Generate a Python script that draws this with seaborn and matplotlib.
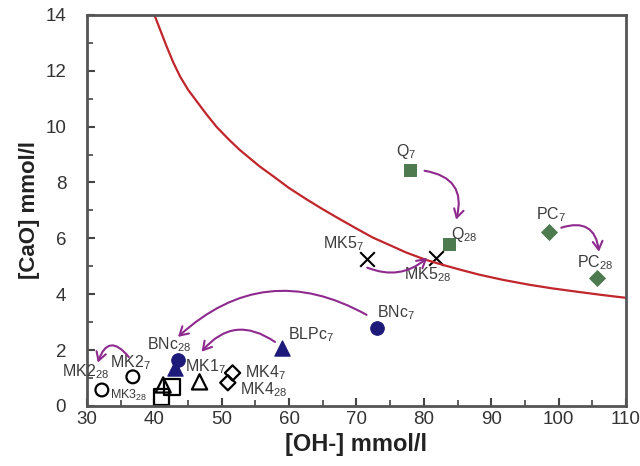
import numpy as np
import pandas as pd
import seaborn as sns
import matplotlib.pyplot as plt
from matplotlib.ticker import MultipleLocator

# %% Data

# saturation curve of Ca(OH)2
curve_oh = [40.0, 41.8, 42.8, 43.8, 45.0, 46.3, 47.7, 49.2, 51.0, 52.7, 55.6, 57.6, 60.0,
            62.5, 65.0, 67.5, 70.0, 72.4, 75.0, 77.4, 80.3, 82.8, 85.5, 88.2, 91.8, 95.6,
            99.0, 103.0, 106.5, 110.0]
curve_cao = [14.0, 12.88, 12.3, 11.8, 11.32, 10.9, 10.45, 10.0, 9.55, 9.16, 8.58, 8.23, 7.8,
             7.41, 7.04, 6.69, 6.35, 6.03, 5.75, 5.49, 5.23, 5.05, 4.87, 4.7, 4.51, 4.34,
             4.21, 4.08, 3.97, 3.87]

# green filled squares (Q) and diamonds (PC)
q_oh = [77.9, 83.8]
q_cao = [8.46, 5.81]
pc_oh = [98.6, 105.7]
pc_cao = [6.24, 4.59]

# crosses (MK5)
mk5_oh = [71.6, 81.8]
mk5_cao = [5.27, 5.3]

# navy filled circles / triangles (BNc, BLPc)
bn_oh = [73.1, 43.5]
bn_cao = [2.8, 1.65]
blp_oh = [59.0, 43.0]
blp_cao = [2.08, 1.35]

# open markers
circ_oh = [36.8, 32.2]
circ_cao = [1.04, 0.57]
tri_oh = [46.7, 41.3]
tri_cao = [0.86, 0.75]
sq_oh = [42.6, 41.1]
sq_cao = [0.68, 0.32]
dia_oh = [51.6, 50.9]
dia_cao = [1.18, 0.83]

# labels: text, x, y
lbl_text = ['Q$_{7}$', 'Q$_{28}$', 'PC$_{7}$', 'PC$_{28}$', 'MK5$_{7}$', 'MK5$_{28}$',
            'BNc$_{7}$', 'BLPc$_{7}$', 'BNc$_{28}$', 'MK1$_{7}$', 'MK4$_{7}$', 'MK4$_{28}$',
            'MK2$_{7}$', 'MK2$_{28}$']
lbl_x = [75.9, 84.1, 96.7, 102.7, 65.0, 77.1, 73.0, 59.8, 38.9, 44.5, 53.4, 52.7, 33.4, 26.3]
lbl_y = [9.1, 6.13, 6.85, 5.13, 5.8, 4.7, 3.33, 2.55, 2.19, 1.4, 1.2, 0.58, 1.54, 1.22]

# arrows: start -> end, curvature
arr_start = [(36.2, 1.75), (57.9, 2.29), (71.5, 3.26), (80.1, 8.42), (100.4, 6.38), (71.6, 4.95)]
arr_end = [(31.6, 1.55), (47.0, 1.94), (43.5, 2.47), (84.8, 6.67), (106.0, 5.52), (80.5, 5.3)]
arr_rad = [0.9, 0.45, 0.36, -0.55, -0.6, 0.3]

# %% Plot

sns.set_style('ticks')
plt.rcParams['font.family'] = ['Liberation Sans', 'DejaVu Sans']
plt.rcParams['mathtext.default'] = 'regular'

fig, ax = plt.subplots(figsize=(6.4, 4.66), dpi=100)
fig.subplots_adjust(left=0.136, right=0.978, bottom=0.129, top=0.968)

sns.lineplot(x=curve_oh, y=curve_cao, color='#c0262b', linewidth=1.6, ax=ax)

green = '#4d7a4f'
navy = '#1d1a7a'
sns.scatterplot(x=q_oh, y=q_cao, marker='s', s=80, color=green, edgecolor=green, ax=ax)
sns.scatterplot(x=pc_oh, y=pc_cao, marker='D', s=65, color=green, edgecolor=green, ax=ax)
sns.scatterplot(x=mk5_oh, y=mk5_cao, marker='x', s=110, color='black', linewidth=1.5, ax=ax)
sns.scatterplot(x=bn_oh, y=bn_cao, marker='o', s=95, color=navy, edgecolor=navy, ax=ax)
sns.scatterplot(x=blp_oh, y=blp_cao, marker='^', s=120, color=navy, edgecolor=navy, ax=ax)

open_kw = dict(facecolor='none', edgecolor='black', linewidth=1.6, ax=ax)
sns.scatterplot(x=circ_oh, y=circ_cao, marker='o', s=85, **open_kw)
sns.scatterplot(x=tri_oh, y=tri_cao, marker='^', s=120, **open_kw)
sns.scatterplot(x=sq_oh, y=sq_cao, marker='s', s=120, **open_kw)
sns.scatterplot(x=dia_oh, y=dia_cao, marker='D', s=60, **open_kw)

for txt, tx, ty in zip(lbl_text, lbl_x, lbl_y):
    ax.text(tx, ty, txt, fontsize=11.5, color='#3c3c3c', ha='left', va='center',
            clip_on=False)
ax.text(33.4, 0.39, 'MK3$_{28}$', fontsize=9, color='#3c3c3c', ha='left', va='center')

for (x0, y0), (x1, y1), rad in zip(arr_start, arr_end, arr_rad):
    ax.annotate('', xy=(x1, y1), xytext=(x0, y0),
                arrowprops=dict(arrowstyle='->,head_length=0.6,head_width=0.35',
                                color='#8e2a8e', lw=1.5,
                                connectionstyle='arc3,rad=%s' % rad,
                                shrinkA=0, shrinkB=0))

ax.set_xlim(30, 110)
ax.set_ylim(0, 14)
ax.xaxis.set_major_locator(MultipleLocator(10))
ax.xaxis.set_minor_locator(MultipleLocator(5))
ax.yaxis.set_major_locator(MultipleLocator(2))
ax.yaxis.set_minor_locator(MultipleLocator(1))
ax.tick_params(which='both', direction='in', top=False, right=False,
               color='#444444', labelcolor='#333333', labelsize=13.5)
ax.tick_params(which='major', length=6, width=1.5)
ax.tick_params(which='minor', length=4, width=1.2)
ax.tick_params(axis='y', which='major', pad=15)
for sp in ax.spines.values():
    sp.set_color('#555555')
    sp.set_linewidth(2)

ax.set_xlabel('[OH-] mmol/l', fontsize=17, fontweight='bold', color='#222222')
ax.set_ylabel('[CaO] mmol/l', fontsize=16, fontweight='bold', color='#222222')

fig.savefig('out.png', dpi=100)
